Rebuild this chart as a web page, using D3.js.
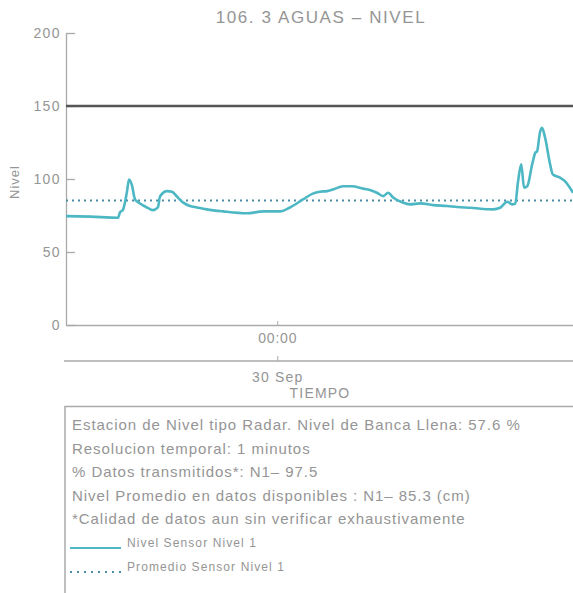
<!DOCTYPE html>
<html>
<head>
<meta charset="utf-8">
<script src="https://cdn.jsdelivr.net/npm/d3@7"></script>
<style>
  body { margin: 0; background: #fff; }
  text { font-family: "Liberation Sans", Arial, sans-serif; fill: #959595; }
</style>
</head>
<body>
<div id="chart"></div>
<script>
// series (Sep 29 14:00 -> Sep 30 14:00)
const times = ["09-29 14:00","09-29 15:10","09-29 16:28","09-29 16:33","09-29 16:42","09-29 16:53","09-29 16:59",
  "09-29 17:07","09-29 17:16","09-29 17:25","09-29 17:50","09-29 18:07","09-29 18:21","09-29 18:27","09-29 18:47",
  "09-29 19:01","09-29 19:15","09-29 19:32","09-29 19:52","09-29 20:12","09-29 20:40","09-29 21:26","09-29 22:34",
  "09-29 23:20","09-30 00:08","09-30 00:36","09-30 01:13","09-30 01:41","09-30 02:01","09-30 02:21","09-30 02:38",
  "09-30 03:07","09-30 03:32","09-30 04:04","09-30 04:23","09-30 04:43","09-30 05:01","09-30 05:15","09-30 05:29",
  "09-30 05:55","09-30 06:17","09-30 06:46","09-30 07:23","09-30 08:03","09-30 08:31","09-30 09:08","09-30 10:13",
  "09-30 10:33","09-30 10:53","09-30 11:07","09-30 11:16","09-30 11:24","09-30 11:33","09-30 11:41","09-30 11:50",
  "09-30 12:04","09-30 12:13","09-30 12:18","09-30 12:26","09-30 12:32","09-30 12:41","09-30 12:55","09-30 13:03",
  "09-30 13:23","09-30 13:37","09-30 14:00"];
const nivel = [74.6,74.2,73.5,77,79,91,99.7,
  96,86,84,80.5,78.7,80.5,88,91.7,
  91.3,88,84,81.5,80.5,79.2,77.8,76.5,
  77.8,77.8,80.5,86,90,91.3,91.7,92.8,
  95,95,93.4,92.4,90.6,88.3,90.6,87.3,
  84,82.6,83.3,82.1,81.5,80.8,80.3,79.2,
  80.3,84.4,82.6,83.1,98.5,110,94,95,
  110,118,119,131.7,135,128,110,103,
  101,98.5,90.6];
const promedio = 85.3;
const bancaLlena = 150;
const yTicks = [0, 50, 100, 150, 200];
const infoLines = [
  "Estacion de Nivel tipo Radar. Nivel de Banca Llena: 57.6 %",
  "Resolucion temporal: 1 minutos",
  "% Datos transmitidos*: N1\u2013 97.5",
  "Nivel Promedio en datos disponibles : N1\u2013 85.3 (cm)",
  "*Calidad de datos aun sin verificar exhaustivamente"
];
const legendNames = ["Nivel Sensor Nivel 1", "Promedio Sensor Nivel 1"];

const W = 573, H = 593;
const parse = d3.timeParse("%Y-%m-%d %H:%M");
const data = times.map((t, i) => ({t: parse("2023-" + t), v: nivel[i]}));

const svg = d3.select("#chart").append("svg")
  .attr("width", W).attr("height", H);

const x = d3.scaleTime()
  .domain([parse("2023-09-29 14:00"), parse("2023-09-30 14:00")])
  .range([66, 573]);
const y = d3.scaleLinear().domain([0, 200]).range([325, 33]);

const lineCol = "#4db8c4", avgCol = "#4a8ea8", axisCol = "#aaa";

// title
svg.append("text")
  .attr("x", 321).attr("y", 23)
  .attr("text-anchor", "middle")
  .style("font-size", "17px")
  .style("letter-spacing", "1.6px")
  .text("106. 3 AGUAS \u2013 NIVEL");

// y axis (ticks inward)
const yAxis = svg.append("g")
  .attr("transform", "translate(66,0)")
  .call(d3.axisLeft(y).tickValues(yTicks).tickSizeInner(-9).tickSizeOuter(0).tickPadding(5));
yAxis.select(".domain").attr("stroke", axisCol).attr("stroke-width", 1.3);
yAxis.selectAll(".tick line").attr("stroke", axisCol).attr("stroke-width", 1.3);
yAxis.selectAll(".tick text").style("font-size", "14px").style("letter-spacing", "1.4px")
  .attr("fill", "#959595");

svg.append("text")
  .attr("transform", "translate(19,182) rotate(-90)")
  .attr("text-anchor", "middle")
  .style("font-size", "13px")
  .style("letter-spacing", "1px")
  .text("Nivel");

// x axis: hours
const xAxis = svg.append("g")
  .attr("transform", `translate(0,${y(0)})`)
  .call(d3.axisTop(x).ticks(d3.timeDay.every(1)).tickSizeInner(4).tickSizeOuter(0)
    .tickFormat(d3.timeFormat("%H:%M")));
xAxis.select(".domain").attr("stroke", axisCol).attr("stroke-width", 1.3);
xAxis.selectAll(".tick line").attr("stroke", axisCol);
xAxis.selectAll(".tick text").attr("y", 18).style("font-size", "14px").style("letter-spacing", "0.8px")
  .attr("fill", "#959595");

// x axis: days
const xAxis2 = svg.append("g")
  .attr("transform", "translate(0,361)")
  .call(d3.axisTop(x).ticks(d3.timeDay.every(1)).tickSizeInner(5).tickSizeOuter(0)
    .tickFormat(d3.timeFormat("%-d %b")));
xAxis2.select(".domain").attr("stroke", axisCol).attr("stroke-width", 1.3)
  .attr("d", "M64,0H573");
xAxis2.selectAll(".tick text").attr("y", 21).style("font-size", "14px").style("letter-spacing", "1.2px")
  .attr("fill", "#959595");
xAxis2.selectAll(".tick line").attr("stroke", axisCol);

svg.append("text")
  .attr("x", 320).attr("y", 398)
  .attr("text-anchor", "middle")
  .style("font-size", "14px")
  .style("letter-spacing", "1.2px")
  .text("TIEMPO");

// reference lines
svg.append("line")
  .attr("x1", x.range()[0]).attr("x2", x.range()[1])
  .attr("y1", y(bancaLlena)).attr("y2", y(bancaLlena))
  .attr("stroke", "#555").attr("stroke-width", 2.5);

svg.append("line")
  .attr("x1", x.range()[0]).attr("x2", x.range()[1])
  .attr("y1", y(promedio)).attr("y2", y(promedio))
  .attr("stroke", avgCol).attr("stroke-width", 2)
  .attr("stroke-dasharray", "2,4");

// level series
const line = d3.line().x(d => x(d.t)).y(d => y(d.v)).curve(d3.curveMonotoneX);
svg.append("path")
  .datum(data)
  .attr("d", line)
  .attr("fill", "none")
  .attr("stroke", lineCol)
  .attr("stroke-width", 2.6)
  .attr("stroke-linejoin", "round");

// info box
svg.append("rect")
  .attr("x", 65).attr("y", 406.5)
  .attr("width", 520).attr("height", 200)
  .attr("fill", "none").attr("stroke", "#aaa").attr("stroke-width", 1.5);

svg.selectAll(".info")
  .data(infoLines)
  .enter()
  .append("text")
  .attr("class", "info")
  .attr("x", 72)
  .attr("y", (d, i) => 430 + i * 23.5)
  .style("font-size", "15px")
  .style("letter-spacing", "0.95px")
  .attr("fill", "#9a9a9a")
  .text(d => d);

const leg = svg.selectAll(".leg")
  .data(legendNames)
  .enter()
  .append("g")
  .attr("transform", (d, i) => `translate(70,${548 + i * 24})`);
leg.append("line")
  .attr("x1", 0).attr("x2", 51).attr("y1", 0).attr("y2", 0)
  .attr("stroke", (d, i) => i ? avgCol : lineCol)
  .attr("stroke-width", (d, i) => i ? 1.8 : 2)
  .attr("stroke-dasharray", (d, i) => i ? "2,5" : null);
leg.append("text")
  .attr("x", 57).attr("y", -1)
  .style("font-size", "12px")
  .style("letter-spacing", "1.1px")
  .attr("fill", "#9a9a9a")
  .text(d => d);
</script>
</body>
</html>
